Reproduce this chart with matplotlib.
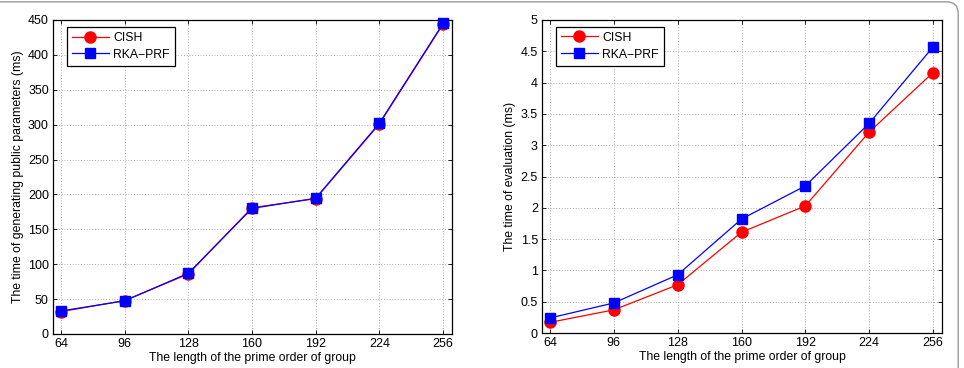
import matplotlib
matplotlib.use("Agg")
import matplotlib.pyplot as plt
from matplotlib.patches import FancyBboxPatch

plt.rcParams["font.family"] = ["Liberation Sans", "DejaVu Sans"]
plt.rcParams["font.size"] = 9

# data
group_len = [64, 96, 128, 160, 192, 224, 256]
gen_cish = [32, 48, 86, 181, 194, 301, 444]
gen_rka = [33, 47.5, 87, 180, 194.5, 302, 445]
eval_cish = [0.17, 0.37, 0.77, 1.61, 2.03, 3.21, 4.16]
eval_rka = [0.24, 0.48, 0.93, 1.82, 2.35, 3.35, 4.57]

xlabel = "The length of the prime order of group"
ylabels = ["The time of generating public parameters (ms)", "The time of evaluation (ms)"]


def style_axes(ax, ymax, ystep):
    ax.set_xlim(60, 260.5)
    ax.set_xticks(group_len)
    ax.set_ylim(0, ymax)
    ax.set_yticks([i * ystep for i in range(int(round(ymax / ystep)) + 1)])
    ax.yaxis.set_major_formatter(plt.FuncFormatter(lambda v, p: f"{v:g}"))
    ax.grid(True, linestyle=(0, (1, 3)), color="#666666", linewidth=0.5)
    ax.tick_params(direction="in", top=True, right=True, length=3, width=0.6, pad=3,
                   labelsize=9)
    for s in ax.spines.values():
        s.set_linewidth(0.9)
    ax.set_xlabel(xlabel, labelpad=1, fontsize=8.8)


fig = plt.figure(figsize=(9.64, 3.68), dpi=100)
ax1 = fig.add_axes([53 / 964, 34 / 368, 399 / 964, 314 / 368])
ax2 = fig.add_axes([542 / 964, 35 / 368, 400 / 964, 313 / 368])

for ax, cish, rka, ymax, ystep, ylab in (
    (ax1, gen_cish, gen_rka, 450, 50, ylabels[0]),
    (ax2, eval_cish, eval_rka, 5, 0.5, ylabels[1]),
):
    ax.plot(group_len, cish, color="red", marker="o", markersize=8, linewidth=0.9,
            label="CISH", zorder=3, clip_on=False)
    ax.plot(group_len, rka, color="blue", marker="s", markersize=6.5, linewidth=0.9,
            label="RKA\u2212PRF", zorder=4, clip_on=False)
    style_axes(ax, ymax, ystep)
    ax.set_ylabel(ylab, labelpad=3, fontsize=8.8)
    leg = ax.legend(loc="upper left", fancybox=False, edgecolor="black", framealpha=1,
                    handlelength=3.0, handletextpad=0.4, borderpad=0.4,
                    borderaxespad=0, labelspacing=0.4,
                    bbox_to_anchor=(0.035, 0.978), fontsize=8.8)
    leg.get_frame().set_linewidth(0.9)

# rounded outer frame
frame = FancyBboxPatch((-0.02, -0.05), 1.014, 1.045, boxstyle="round,pad=0,rounding_size=0.012",
                       transform=fig.transFigure, fill=False, edgecolor="#9a9a9a",
                       linewidth=1.0, mutation_aspect=964 / 368)
fig.patches.append(frame)

fig.savefig("out.png", dpi=100)
